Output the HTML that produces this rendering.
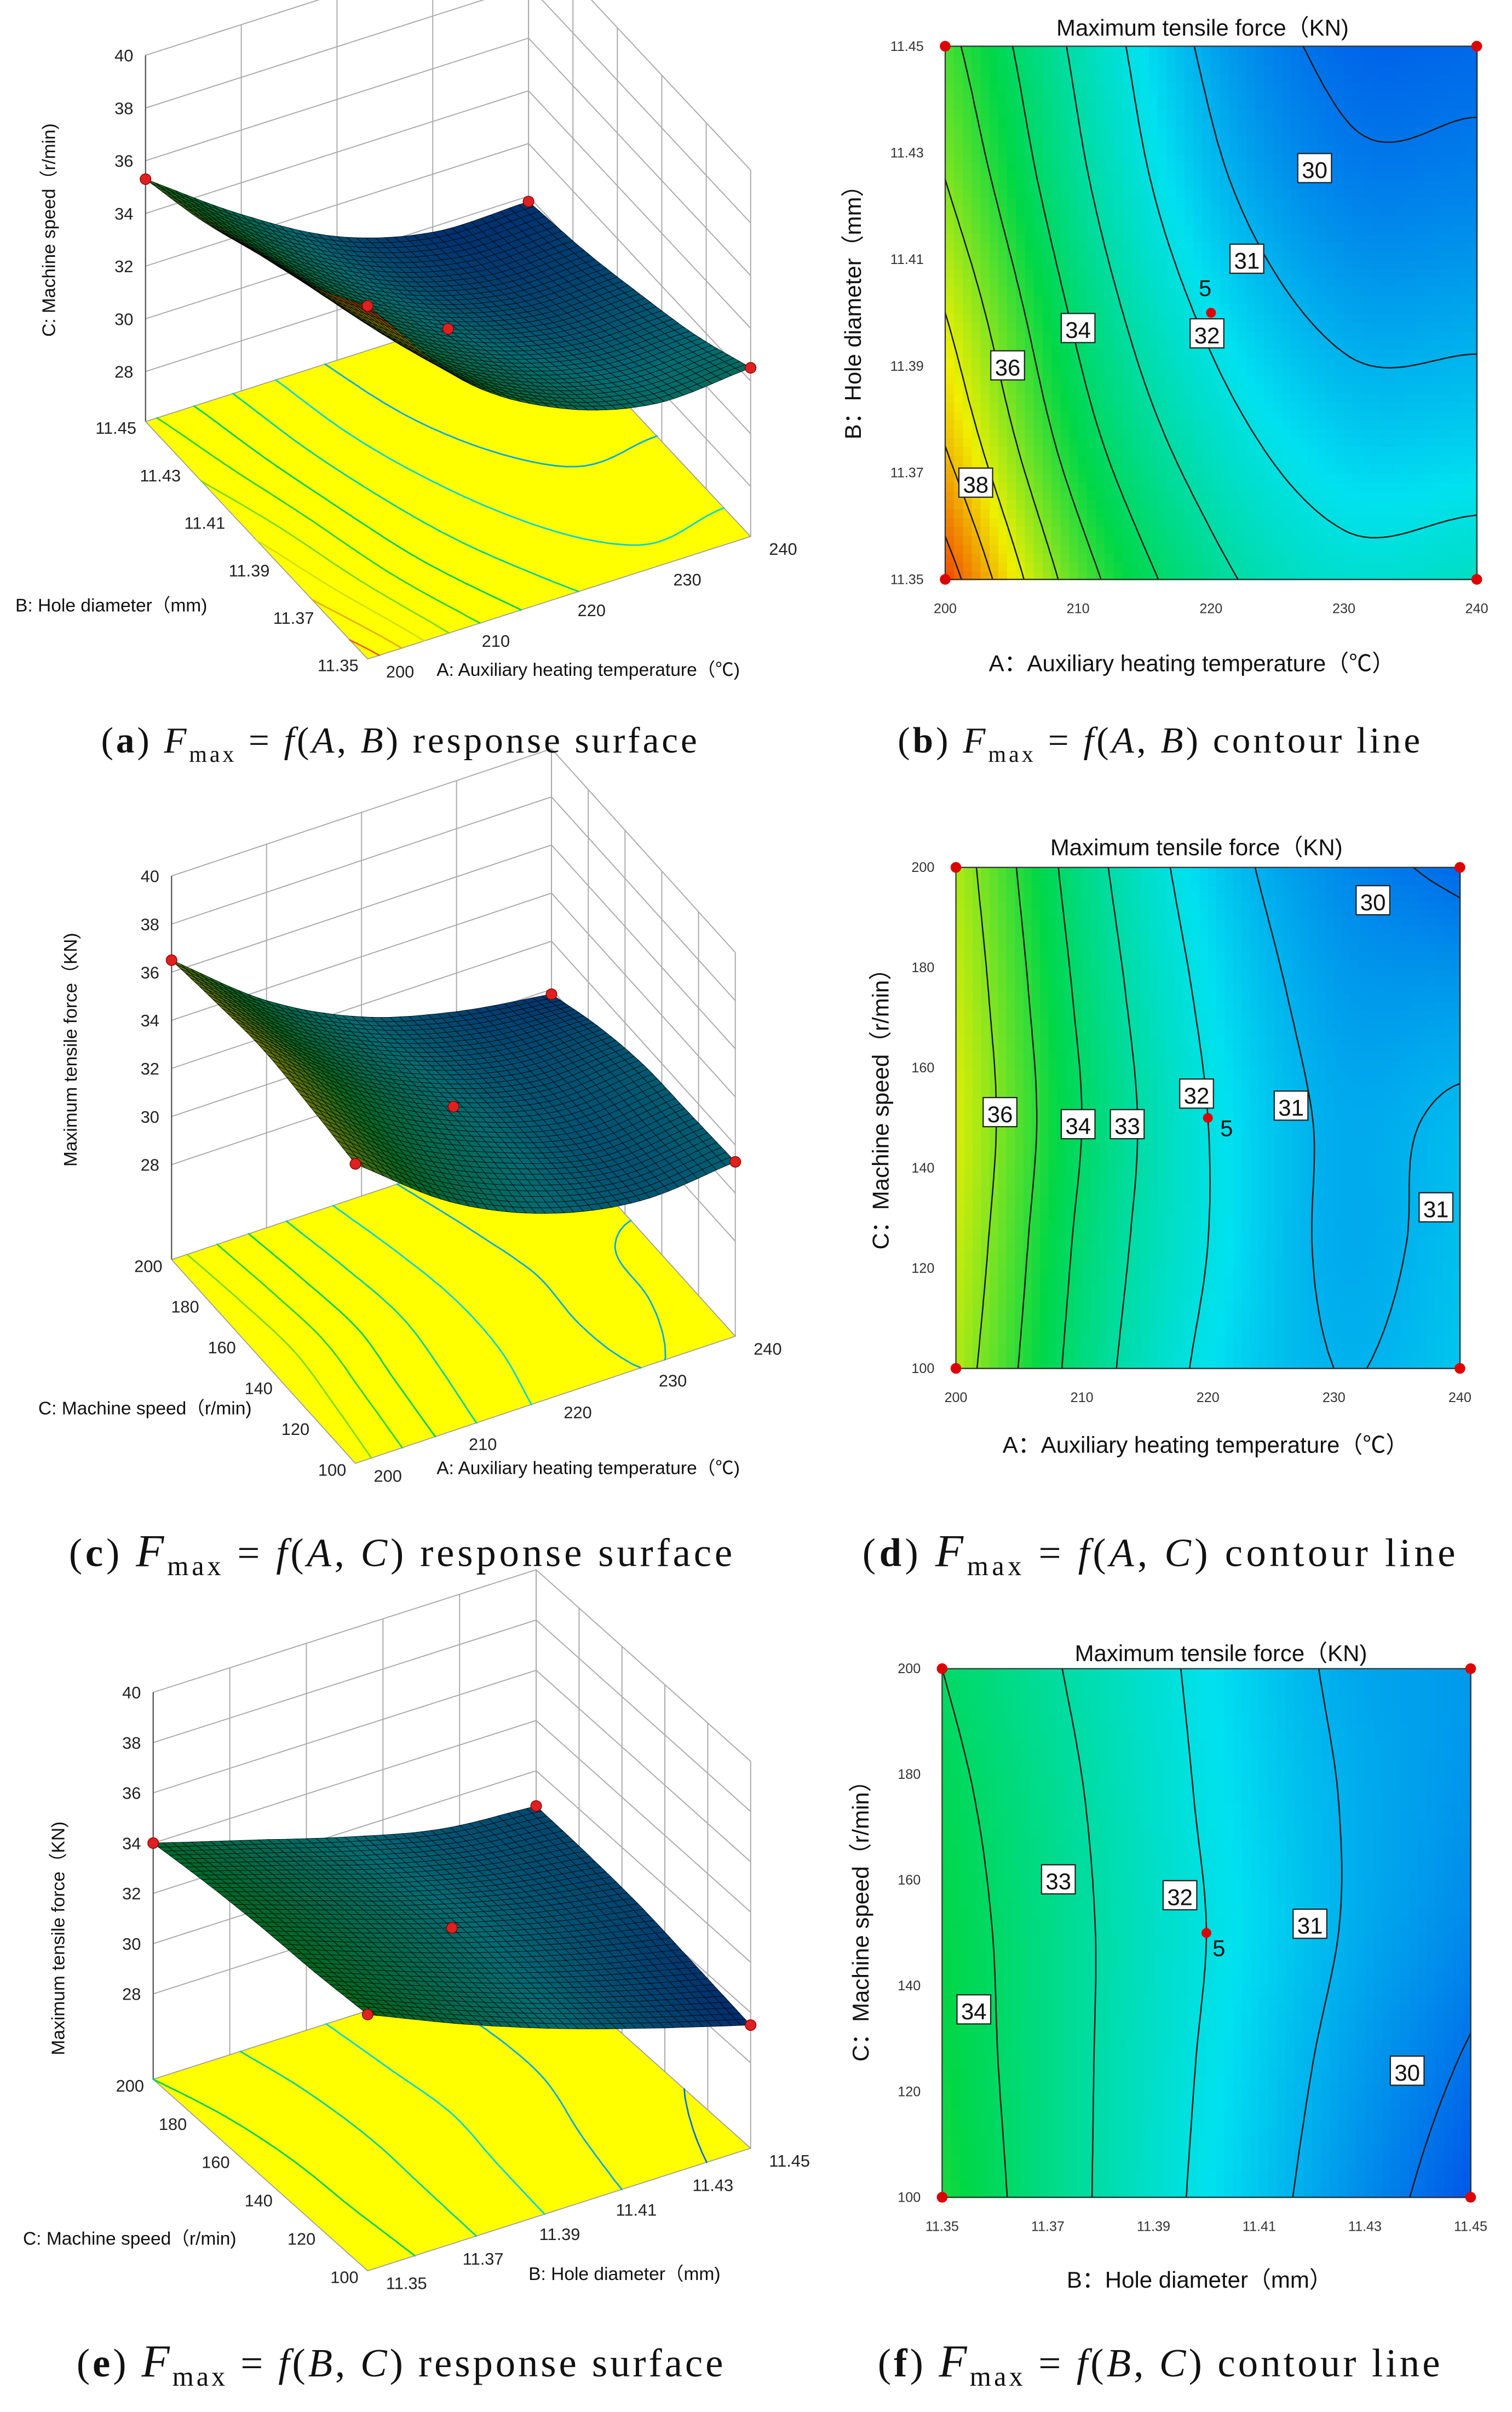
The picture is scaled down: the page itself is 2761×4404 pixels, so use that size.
<!DOCTYPE html>
<html><head><meta charset="utf-8"><title>Fmax response surfaces and contours</title>
<style>html,body{margin:0;padding:0;background:#fff}svg{display:block}</style></head>
<body>
<svg id="fig" xmlns="http://www.w3.org/2000/svg" width="2761" height="4404" viewBox="0 0 987 1574" font-family="Liberation Sans, sans-serif">
<rect width="987" height="1574" fill="#fff"/>
<g id="layer"></g>
<g font-family="Liberation Serif, serif" fill="#111">
<text x="66" y="491" font-size="24" textLength="389" lengthAdjust="spacing">(<tspan font-weight="bold">a</tspan>)  <tspan font-style="italic">F</tspan><tspan font-size="15" dy="6">max</tspan><tspan dy="-6"> = </tspan><tspan font-style="italic">f</tspan>(<tspan font-style="italic">A</tspan>, <tspan font-style="italic">B</tspan>)  response surface</text>
<text x="586" y="491" font-size="24" textLength="341" lengthAdjust="spacing">(<tspan font-weight="bold">b</tspan>)  <tspan font-style="italic">F</tspan><tspan font-size="15" dy="6">max</tspan><tspan dy="-6"> = </tspan><tspan font-style="italic">f</tspan>(<tspan font-style="italic">A</tspan>, <tspan font-style="italic">B</tspan>)  contour line</text>
<text x="45" y="1022" font-size="26" textLength="433" lengthAdjust="spacing">(<tspan font-weight="bold">c</tspan>)  <tspan font-style="italic" font-size="30">F</tspan><tspan font-size="18" dy="6">max</tspan><tspan dy="-6"> = </tspan><tspan font-style="italic">f</tspan>(<tspan font-style="italic">A</tspan>, <tspan font-style="italic">C</tspan>)  response surface</text>
<text x="563" y="1022" font-size="26" textLength="387" lengthAdjust="spacing">(<tspan font-weight="bold">d</tspan>)  <tspan font-style="italic" font-size="30">F</tspan><tspan font-size="18" dy="6">max</tspan><tspan dy="-6"> = </tspan><tspan font-style="italic">f</tspan>(<tspan font-style="italic">A</tspan>, <tspan font-style="italic">C</tspan>)  contour line</text>
<text x="50" y="1551" font-size="26" textLength="422" lengthAdjust="spacing">(<tspan font-weight="bold">e</tspan>)  <tspan font-style="italic" font-size="30">F</tspan><tspan font-size="18" dy="6">max</tspan><tspan dy="-6"> = </tspan><tspan font-style="italic">f</tspan>(<tspan font-style="italic">B</tspan>, <tspan font-style="italic">C</tspan>)  response surface</text>
<text x="573" y="1551" font-size="26" textLength="367" lengthAdjust="spacing">(<tspan font-weight="bold">f</tspan>)  <tspan font-style="italic" font-size="30">F</tspan><tspan font-size="18" dy="6">max</tspan><tspan dy="-6"> = </tspan><tspan font-style="italic">f</tspan>(<tspan font-style="italic">B</tspan>, <tspan font-style="italic">C</tspan>)  contour line</text>
</g>
</svg>
<script>
// ---- data (rows: lowest y-value first) ----
const gridAB = [
 [39.5, 35.5, 33.3, 32.3, 32.5],
 [38.0, 34.5, 32.5, 31.5, 31.5],
 [37.0, 33.8, 31.8, 30.8, 30.8],
 [36.0, 33.2, 31.2, 30.2, 30.2],
 [35.3, 32.8, 30.8, 29.8, 29.8]];
const gridAC = [
 [36.5, 33.6, 31.8, 31.0, 31.3],
 [36.8, 33.8, 32.0, 30.9, 31.2],
 [37.0, 34.0, 32.0, 30.9, 31.1],
 [36.8, 33.8, 31.8, 30.7, 30.6],
 [36.5, 33.5, 31.5, 30.4, 29.8]];
const gridBC = [
 [34.8, 33.2, 31.8, 30.6, 29.5],
 [34.6, 33.2, 31.9, 30.8, 29.9],
 [34.5, 33.2, 32.0, 31.0, 30.3],
 [34.3, 33.1, 31.9, 31.0, 30.5],
 [34.0, 32.9, 31.8, 30.9, 30.6]];
const ticksA = [200, 210, 220, 230, 240];
const ticksB = [11.35, 11.37, 11.39, 11.41, 11.43, 11.45];
const ticksC = [100, 120, 140, 160, 180, 200];
const ticksZ = [28, 30, 32, 34, 36, 38, 40];
const levelsAB = [30, 31, 32, 33, 34, 35, 36, 37, 38, 39];
const levelsAC = [30, 31, 32, 33, 34, 35, 36, 37];
const levelsBC = [30, 31, 32, 33, 34];
const labelsAB = [[227.8, 11.427, '30'], [222.7, 11.410, '31'], [219.7, 11.396, '32'], [210.0, 11.397, '34'], [204.7, 11.390, '36'], [202.3, 11.368, '38']];
const labelsAC = [[233.1, 193.3, '30'], [203.5, 151, '36'], [209.7, 148.6, '34'], [213.6, 148.6, '33'], [219.1, 154.7, '32'], [226.6, 152.3, '31'], [238.1, 132, '31']];
const labelsBC = [[11.372, 160, '33'], [11.395, 157, '32'], [11.4196, 151.6, '31'], [11.356, 135.4, '34'], [11.438, 123.8, '30']];
const centerAB = [220, 11.40];
const centerAC = [220, 150];
const centerBC = [11.40, 150];

const NS = 'http://www.w3.org/2000/svg';
const layer = document.getElementById('layer');
function mk(tag, attrs, parent, txt) {
  const e = document.createElementNS(NS, tag);
  for (const k in attrs) e.setAttribute(k, attrs[k]);
  if (txt !== undefined) e.textContent = txt;
  (parent || layer).appendChild(e);
  return e;
}
function cr(p0, p1, p2, p3, t) {
  return 0.5 * ((2 * p1) + (-p0 + p2) * t + (2 * p0 - 5 * p1 + 4 * p2 - p3) * t * t + (-p0 + 3 * p1 - 3 * p2 + p3) * t * t * t);
}
function interp(g, fx, fy) {
  const n = g[0].length - 1, m = g.length - 1;
  const x = Math.min(Math.max(fx, 0), 1) * n, y = Math.min(Math.max(fy, 0), 1) * m;
  const i = Math.min(Math.floor(x), n - 1), j = Math.min(Math.floor(y), m - 1);
  const tx = x - i, ty = y - j;
  const G = (a, b) => {
    if (b < 0) return 2 * G(a, 0) - G(a, 1);
    if (b > m) return 2 * G(a, m) - G(a, m - 1);
    if (a < 0) return 2 * g[b][0] - g[b][1];
    if (a > n) return 2 * g[b][n] - g[b][n - 1];
    return g[b][a];
  };
  const rows = [];
  for (let k = -1; k <= 2; k++) rows.push(cr(G(i - 1, j + k), G(i, j + k), G(i + 1, j + k), G(i + 2, j + k), tx));
  return cr(rows[0], rows[1], rows[2], rows[3], ty);
}
const stops = [[0, [0, 55, 230]], [0.25, [0, 225, 240]], [0.5, [0, 215, 70]], [0.75, [240, 240, 0]], [1, [240, 30, 0]]];
function cmapRGB(v) {
  let t = Math.min(Math.max((v - 29) / 11, 0), 1);
  for (let k = 0; k < stops.length - 1; k++) {
    const a = stops[k], b = stops[k + 1];
    if (t <= b[0]) { const s = (t - a[0]) / (b[0] - a[0]); return a[1].map((c, q) => c + (b[1][q] - c) * s); }
  }
  return stops[4][1];
}
function rgb(c, f) { f = f === undefined ? 1 : f; return 'rgb(' + c.map(x => Math.round(x * f)).join(',') + ')'; }
function contourSegs(g, level0, N) {
  const level = level0 + 1e-4;
  const segs = [];
  const V = [];
  for (let j = 0; j <= N; j++) { V.push([]); for (let i = 0; i <= N; i++) V[j].push(interp(g, i / N, j / N)); }
  for (let j = 0; j < N; j++) for (let i = 0; i < N; i++) {
    const c = [[i, j], [i + 1, j], [i + 1, j + 1], [i, j + 1]];
    const v = c.map(p => V[p[1]][p[0]]);
    const pts = [];
    for (let e = 0; e < 4; e++) {
      const a = e, b = (e + 1) % 4;
      if ((v[a] - level) * (v[b] - level) < 0) {
        const t = (level - v[a]) / (v[b] - v[a]);
        pts.push([(c[a][0] + (c[b][0] - c[a][0]) * t) / N, (c[a][1] + (c[b][1] - c[a][1]) * t) / N]);
      }
    }
    if (pts.length >= 2) segs.push([pts[0], pts[1]]);
    if (pts.length === 4) segs.push([pts[2], pts[3]]);
  }
  return segs;
}

function contourPanel(cfg) {
  const g = mk('g', {});
  
  
  const W = cfg.x1 - cfg.x0, H = cfg.y1 - cfg.y0;
  const fx = d => (d - cfg.xd[0]) / (cfg.xd[1] - cfg.xd[0]);
  const fy = d => (d - cfg.yd[0]) / (cfg.yd[1] - cfg.yd[0]);
  const sx = f => cfg.x0 + f * W, sy = f => cfg.y1 - f * H;
  const N = 60;
  const hm = mk('g', { 'shape-rendering': 'crispEdges' }, g);
  
  
  for (let j = 0; j < N; j++) for (let i = 0; i < N; i++) {
    const v = interp(cfg.grid, (i + 0.5) / N, (j + 0.5) / N);
    const r = mk('rect', { x: sx(i / N).toFixed(2), y: sy((j + 1) / N).toFixed(2), width: (W / N + 0.6).toFixed(2), height: (H / N + 0.6).toFixed(2), fill: rgb(cmapRGB(v)) }, hm);
    
    
  }
  cfg.levels.forEach(L => {
    const segs = contourSegs(cfg.grid, L, 80);
    let d = '';
    segs.forEach(s => { d += 'M' + sx(s[0][0]).toFixed(1) + ' ' + sy(s[0][1]).toFixed(1) + 'L' + sx(s[1][0]).toFixed(1) + ' ' + sy(s[1][1]).toFixed(1); });
    const p = mk('path', { d: d, stroke: '#1a1a1a', 'stroke-width': 0.9, fill: 'none', 'stroke-linecap': 'round' }, g);
    
    
  });
  const fr = mk('rect', { x: cfg.x0, y: cfg.y0, width: W, height: H, fill: 'none', stroke: '#333', 'stroke-width': 0.8 }, g);
  
  
  cfg.xt.forEach(t => {
    const tx = mk('text', { x: sx(fx(t)), y: cfg.y1 + 22, 'font-size': 9, 'text-anchor': 'middle', fill: '#333' }, g, t.toFixed(cfg.xdec));
    
    
  });
  cfg.yt.forEach(t => {
    const ty = mk('text', { x: cfg.x0 - 14, y: sy(fy(t)) + 3, 'font-size': 9, 'text-anchor': 'end', fill: '#333' }, g, t.toFixed(cfg.ydec));
    
    
  });
  [[0, 0], [1, 0], [0, 1], [1, 1]].forEach(c => {
    const dot = mk('circle', { cx: sx(c[0]), cy: sy(c[1]), r: 3.5, fill: '#d00' }, g);
    
    
  });
  const cxp = sx(fx(cfg.center[0])), cyp = sy(fy(cfg.center[1]));
  const cd = mk('circle', { cx: cxp, cy: cyp, r: 3.2, fill: '#d00' }, g);
  
  
  const c5 = mk('text', { x: cxp + cfg.c5[0], y: cyp + cfg.c5[1], 'font-size': 15, fill: '#111' }, g, '5');
  
  
  cfg.labels.forEach(l => {
    const x = sx(fx(l[0])), y = sy(fy(l[1]));
    const b = mk('rect', { x: x - 11, y: y - 10, width: 22, height: 19, fill: '#fff', stroke: '#222', 'stroke-width': 0.8 }, g);
    
    
    const t = mk('text', { x: x, y: y + 6, 'font-size': 15, 'text-anchor': 'middle', fill: '#111' }, g, l[2]);
    
    
  });
  const ff = 'Liberation Sans, Noto Sans CJK SC, sans-serif';
  const ti = mk('text', { x: cfg.title[0], y: cfg.title[1], 'font-size': 15, 'text-anchor': 'middle', fill: '#111', 'font-family': ff }, g, 'Maximum tensile force（KN)');
  
  
  const xl = mk('text', { x: cfg.xl[0], y: cfg.xl[1], 'font-size': 15, 'text-anchor': 'middle', fill: '#111', 'font-family': ff }, g, cfg.xlabel);
  
  
  const yl = mk('text', { x: 0, y: 0, 'font-size': 15, 'text-anchor': 'middle', fill: '#111', transform: 'translate(' + cfg.yl[0] + ',' + cfg.yl[1] + ') rotate(-90)', 'font-family': ff }, g, cfg.ylabel);
  
  
}
contourPanel({ name: 'contour-plot-b', grid: gridAB, levels: levelsAB, labels: labelsAB, center: centerAB, c5: [-8, -11],
  x0: 617, x1: 964, y0: 30, y1: 378, xd: [200, 240], yd: [11.35, 11.45], xt: ticksA, yt: ticksB, xdec: 0, ydec: 2,
  title: [785, 23], xl: [778, 438], yl: [562, 200], xlabel: 'A：Auxiliary heating temperature（℃）', ylabel: 'B：Hole diameter（mm）' });
contourPanel({ name: 'contour-plot-d', grid: gridAC, levels: levelsAC, labels: labelsAC, center: centerAC, c5: [8, 12],
  x0: 624, x1: 953, y0: 566, y1: 893, xd: [200, 240], yd: [100, 200], xt: ticksA, yt: ticksC, xdec: 0, ydec: 0,
  title: [781, 558], xl: [787, 948], yl: [580, 720], xlabel: 'A：Auxiliary heating temperature（℃）', ylabel: 'C：Machine speed（r/min）' });
contourPanel({ name: 'contour-plot-f', grid: gridBC, levels: levelsBC, labels: labelsBC, center: centerBC, c5: [4, 15],
  x0: 615, x1: 960, y0: 1089, y1: 1434, xd: [11.35, 11.45], yd: [100, 200], xt: ticksB, yt: ticksC, xdec: 2, ydec: 0,
  title: [797, 1084], xl: [783, 1493], yl: [567, 1250], xlabel: 'B：Hole diameter（mm）', ylabel: 'C：Machine speed（r/min）' });

function surfacePanel(cfg) {
  const g = mk('g', {});
  
  
  const P = (fu, fv, z) => [cfg.O[0] + fu * cfg.u[0] + fv * cfg.v[0], cfg.O[1] + fu * cfg.u[1] + fv * cfg.v[1] - (z - cfg.z0) * cfg.zs];
  const fu = d => (d - cfg.ud[0]) / (cfg.ud[1] - cfg.ud[0]);
  const fv = d => (d - cfg.vd[0]) / (cfg.vd[1] - cfg.vd[0]);
  const line = (a, b, name, col, w) => {
    const l = mk('line', { x1: a[0], y1: a[1], x2: b[0], y2: b[1], stroke: col || '#aaa', 'stroke-width': w || 0.7 }, g);
    
    
  };
  ticksZ.forEach(z => {
    line(P(0, 1, z), P(1, 1, z), 'wall-gridline');
    line(P(1, 1, z), P(1, 0, z), 'wall-gridline');
  });
  cfg.ut.forEach(t => line(P(fu(t), 1, cfg.z0), P(fu(t), 1, 40), 'wall-gridline'));
  cfg.vt.forEach(t => line(P(1, fv(t), cfg.z0), P(1, fv(t), 40), 'wall-gridline'));
  line(P(0, 1, cfg.z0), P(0, 1, 40), 'z-axis-line', '#555', 0.8);
  const fl = [P(0, 0, cfg.z0), P(1, 0, cfg.z0), P(1, 1, cfg.z0), P(0, 1, cfg.z0)];
  const floor = mk('polygon', { points: fl.map(p => p.join(',')).join(' '), fill: '#ffff00', stroke: '#999', 'stroke-width': 0.6 }, g);
  
  
  cfg.levels.forEach(L => {
    const segs = contourSegs(cfg.grid, L, 50);
    let d = '';
    segs.forEach(s => { const a = P(s[0][0], s[0][1], cfg.z0), b = P(s[1][0], s[1][1], cfg.z0); d += 'M' + a[0].toFixed(1) + ' ' + a[1].toFixed(1) + 'L' + b[0].toFixed(1) + ' ' + b[1].toFixed(1); });
    const c = cmapRGB(L);
    const p = mk('path', { d: d, stroke: rgb(c, 0.95), 'stroke-width': 1, fill: 'none', 'stroke-linecap': 'round' }, g);
    
    
  });
  const N = 40, quads = [];
  for (let j = 0; j < N; j++) for (let i = 0; i < N; i++) quads.push([i, j]);
  quads.sort((a, b) => (b[0] + b[1]) - (a[0] + a[1]));
  const sg = mk('g', {}, g);
  
  
  quads.forEach(q => {
    const i = q[0], j = q[1];
    const cs = [[i, j], [i + 1, j], [i + 1, j + 1], [i, j + 1]].map(c => P(c[0] / N, c[1] / N, interp(cfg.grid, c[0] / N, c[1] / N)));
    const v = interp(cfg.grid, (i + 0.5) / N, (j + 0.5) / N);
    const poly = mk('polygon', { points: cs.map(p => p[0].toFixed(1) + ',' + p[1].toFixed(1)).join(' '), fill: rgb(cmapRGB(v), 0.48), stroke: '#050505', 'stroke-width': 0.3 }, sg);
    
    
  });
  [[0, 0], [1, 0], [0, 1], [1, 1], [0.5, 0.5]].forEach(c => {
    const p = P(c[0], c[1], interp(cfg.grid, c[0], c[1]));
    const dot = mk('circle', { cx: p[0], cy: p[1], r: 3.5, fill: '#e02020', stroke: '#800', 'stroke-width': 0.5 }, g);
    
    
  });
  ticksZ.forEach(z => {
    const p = P(0, 1, z);
    const t = mk('text', { x: p[0] - 8, y: p[1] + 4, 'font-size': 11, 'text-anchor': 'end', fill: '#222' }, g, String(z));
    
    
  });
  cfg.ut.forEach(d => {
    const p = P(fu(d), 0, cfg.z0);
    const t = mk('text', { x: p[0] + 12, y: p[1] + 12, 'font-size': 11, fill: '#222' }, g, d.toFixed(cfg.udec));
    
    
  });
  cfg.vt.forEach(d => {
    const p = P(0, fv(d), cfg.z0);
    const t = mk('text', { x: p[0] - 6, y: p[1] + 8, 'font-size': 11, 'text-anchor': 'end', fill: '#222' }, g, d.toFixed(cfg.vdec));
    
    
  });
  const ff = 'Liberation Sans, Noto Sans CJK SC, sans-serif';
  const ul = mk('text', { x: cfg.ul[0], y: cfg.ul[1], 'font-size': 12, fill: '#111', 'font-family': ff }, g, cfg.ulabel);
  
  
  const vl = mk('text', { x: cfg.vl[0], y: cfg.vl[1], 'font-size': 12, fill: '#111', 'font-family': ff }, g, cfg.vlabel);
  
  
  const zl = mk('text', { x: 0, y: 0, 'font-size': 12, 'text-anchor': 'middle', fill: '#111', transform: 'translate(' + cfg.zl[0] + ',' + cfg.zl[1] + ') rotate(-90)', 'font-family': ff }, g, cfg.zlabel);
  
  
}
surfacePanel({ name: 'surface-plot-a', grid: gridAB, levels: levelsAB, O: [240, 430], u: [250, -80], v: [-145, -155], zs: 17.2, z0: 26.1,
  ud: [200, 240], vd: [11.35, 11.45], ut: ticksA, vt: [11.35, 11.37, 11.39, 11.41, 11.43, 11.45], udec: 0, vdec: 2,
  ul: [285, 441], vl: [10, 399], zl: [36, 150], ulabel: 'A: Auxiliary heating temperature（℃)', vlabel: 'B: Hole diameter（mm)', zlabel: 'C: Machine speed（r/min)' });
surfacePanel({ name: 'surface-plot-c', grid: gridAC, levels: levelsAC, O: [232, 955], u: [248, -83], v: [-120, -133], zs: 15.7, z0: 24.05,
  ud: [200, 240], vd: [100, 200], ut: ticksA, vt: ticksC, udec: 0, vdec: 0,
  ul: [285, 962], vl: [25, 923], zl: [50, 685], ulabel: 'A: Auxiliary heating temperature（℃)', vlabel: 'C:  Machine speed（r/min)', zlabel: 'Maximum tensile force（KN)' });
surfacePanel({ name: 'surface-plot-e', grid: gridBC, levels: levelsBC, O: [240, 1482], u: [250, -80], v: [-140, -125], zs: 16.4, z0: 24.6,
  ud: [11.35, 11.45], vd: [100, 200], ut: [11.35, 11.37, 11.39, 11.41, 11.43, 11.45], vt: ticksC, udec: 2, vdec: 0,
  ul: [345, 1488], vl: [15, 1465], zl: [42, 1265], ulabel: 'B: Hole diameter（mm)', vlabel: 'C:  Machine speed（r/min)', zlabel: 'Maximum tensile force（KN)' });
</script>
</body></html>
